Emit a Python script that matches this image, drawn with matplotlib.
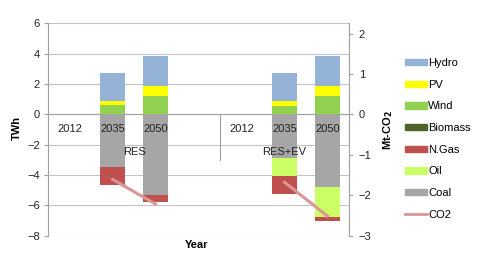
import numpy as np
import matplotlib.pyplot as plt
from matplotlib.patches import Patch
from matplotlib.lines import Line2D

plt.rcParams['font.family'] = ['Liberation Sans', 'DejaVu Sans']
plt.rcParams['font.size'] = 8

# categories (blank slot between the two scenario groups)
years = ['2012', '2035', '2050', '', '2012', '2035', '2050']
groups = ['RES', 'RES+EV']
group_first = [0, 4]
group_last = [3, 6]

# TWh, difference vs 2012
hydro = [0, 1.87, 1.98, 0, 0, 1.87, 1.98]
pv = [0, 0.28, 0.68, 0, 0, 0.30, 0.68]
wind = [0, 0.60, 1.20, 0, 0, 0.58, 1.20]
biomass = [0, 0, 0, 0, 0, 0, 0]
ngas = [0, -1.23, -0.47, 0, 0, -1.23, -0.26]
oil = [0, 0, 0, 0, 0, -1.19, -2.00]
coal = [0, -3.45, -5.32, 0, 0, -2.86, -4.78]
# Mt-CO2
co2 = [np.nan, -1.61, -2.22, np.nan, np.nan, -1.68, -2.52]

series = [('Coal', coal, '#a6a6a6'),
          ('Oil', oil, '#ccff66'),
          ('N.Gas', ngas, '#c0504d'),
          ('Biomass', biomass, '#4f6228'),
          ('Wind', wind, '#92d050'),
          ('PV', pv, '#ffff00'),
          ('Hydro', hydro, '#95b3d7')]
co2_color = '#d99694'

fig = plt.figure(figsize=(4.78, 2.59), dpi=100)
ax = fig.add_axes([48/478, 1-235.5/259, (349-48)/478, 212/259])

x = np.arange(len(years))
pos_bot = np.zeros(len(x))
neg_bot = np.zeros(len(x))
for name, vals, col in series:
    v = np.array(vals, dtype=float)
    b = np.where(v >= 0, pos_bot, neg_bot)
    ax.bar(x, v, 0.56, bottom=b, color=col, zorder=2, linewidth=0)
    pos_bot += np.clip(v, 0, None)
    neg_bot += np.clip(v, None, 0)

ax.set_xlim(-0.5, len(x) - 0.5)
ax.set_ylim(-8, 6)
ax.set_yticks(np.arange(-8, 7, 2))
ax.set_xticks([])
ax.set_axisbelow(True)
ax.yaxis.grid(True, color='#c4c4c4', lw=0.8)
ax.axhline(0, color='#a0a0a0', lw=0.8, zorder=1)
for s in ['top', 'bottom', 'right']:
    ax.spines[s].set_visible(False)
ax.spines['left'].set_color('#a0a0a0')
ax.tick_params(axis='y', length=3, color='#a0a0a0', pad=3, labelcolor='#222222')

# multi level category labels
for i, y in enumerate(years):
    ax.text(i, -1.0, y, ha='center', va='center', zorder=5, color='#222222')
for g, a, b in zip(groups, group_first, group_last):
    ax.text((a + b) / 2, -2.5, g, ha='center', va='center', zorder=5, color='#222222')
for xs in [group_first[1] - 0.5]:
    ax.plot([xs, xs], [0, -3], color='#a0a0a0', lw=0.8, zorder=1)

ax2 = ax.twinx()
ax2.plot(x, co2, color=co2_color, lw=2.2, zorder=3)
ax2.set_ylim(-3, 2.25)
ax2.set_yticks(np.arange(-3, 3, 1))
for s in ['top', 'bottom', 'left']:
    ax2.spines[s].set_visible(False)
ax2.spines['right'].set_color('#a0a0a0')
ax2.tick_params(axis='y', length=3, color='#a0a0a0', pad=4, labelcolor='#222222')

fig.text(17/478, 1-128/259, 'TWh', rotation=90, ha='center', va='center', fontweight='bold')
fig.text(388/478, 1-130/259, r'Mt-CO$_\mathbf{2}$', rotation=90, ha='center', va='center',
         fontweight='bold')
fig.text(197/478, 1-245/259, 'Year', ha='center', va='center', fontweight='bold')

handles = [Patch(color=c, label=n) for n, v, c in reversed(series)]
handles.append(Line2D([], [], color=co2_color, lw=2, label='CO2'))
fig.legend(handles=handles, loc='upper left', bbox_to_anchor=(405/478, 1-58/259),
           frameon=False, handlelength=2.0, handleheight=0.5, handletextpad=0.1,
           labelspacing=1.05, borderpad=0, borderaxespad=0)

fig.savefig('out.png', dpi=100)
